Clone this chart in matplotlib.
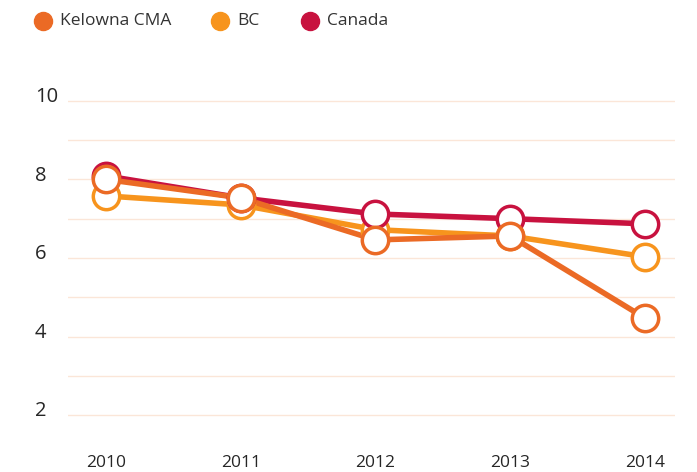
import numpy as np
import matplotlib.pyplot as plt
import matplotlib.transforms as mtransforms
from matplotlib.lines import Line2D

years = [2010, 2011, 2012, 2013, 2014]
kelowna = [8.0, 7.53, 6.46, 6.56, 4.47]
bc = [7.58, 7.35, 6.72, 6.56, 6.03]
canada = [8.09, 7.53, 7.12, 7.0, 6.87]
series_names = ['Kelowna CMA', 'BC', 'Canada']
y_labels = [2, 4, 6, 8, 10]

colors = ['#EB6A25', '#F7941D', '#C8123F']
grid_col = '#FBE6D8'
text_col = '#262626'

plt.rcParams['font.family'] = ['Open Sans', 'DejaVu Sans']

fig = plt.figure(figsize=(6.97, 4.72), dpi=100)
# axes in pixel terms: x 68..675, y 60..430 (from top)
W, H = 697, 472
ax = fig.add_axes([68 / W, (H - 430) / H, (675 - 68) / W, (430 - 60) / H])

ax.set_xlim(2009.718, 2014.223)
ax.set_ylim(1.62, 11.04)

# light gridlines at every unit
for v in range(2, 11):
    ax.axhline(v, color=grid_col, lw=1, zorder=0)

# y labels sitting on the gridlines, on the left
trans = mtransforms.blended_transform_factory(fig.transFigure, ax.transData)
for v in y_labels:
    ax.text(35 / W, v - 0.03, str(v), transform=trans, ha='left', va='baseline',
            fontsize=14.5, color=text_col)

# draw order: BC, Kelowna, Canada lines; markers on top
data = [kelowna, bc, canada]
order = [1, 2, 0]
for i in order:
    ax.plot(years, data[i], color=colors[i], lw=4, solid_capstyle='round',
            zorder=2 + (i == 0))
for i in order:
    ax.plot(years, data[i], ls='none', marker='o', ms=19, mfc='white',
            mec=colors[i], mew=2.5, zorder=4 + (i == 0))

ax.set_xticks(years)
ax.set_xticklabels([str(y) for y in years], fontsize=12.5, color=text_col)
ax.tick_params(axis='x', length=0, pad=18)
ax.set_yticks([])
for s in ax.spines.values():
    s.set_visible(False)

# legend at the top, placed item by item
leg_marker_x = [43, 220, 310]
leg_y = 1 - 21 / H
for name, c, mx in zip(series_names, colors, leg_marker_x):
    fig.add_artist(Line2D([mx / W], [leg_y], transform=fig.transFigure, ls='none',
                          marker='o', ms=13, mfc=c, mec=c))
    fig.text((mx + 17) / W, leg_y, name, ha='left', va='center', fontsize=12.5,
             color='#333333')

fig.savefig('out.png', dpi=100)
